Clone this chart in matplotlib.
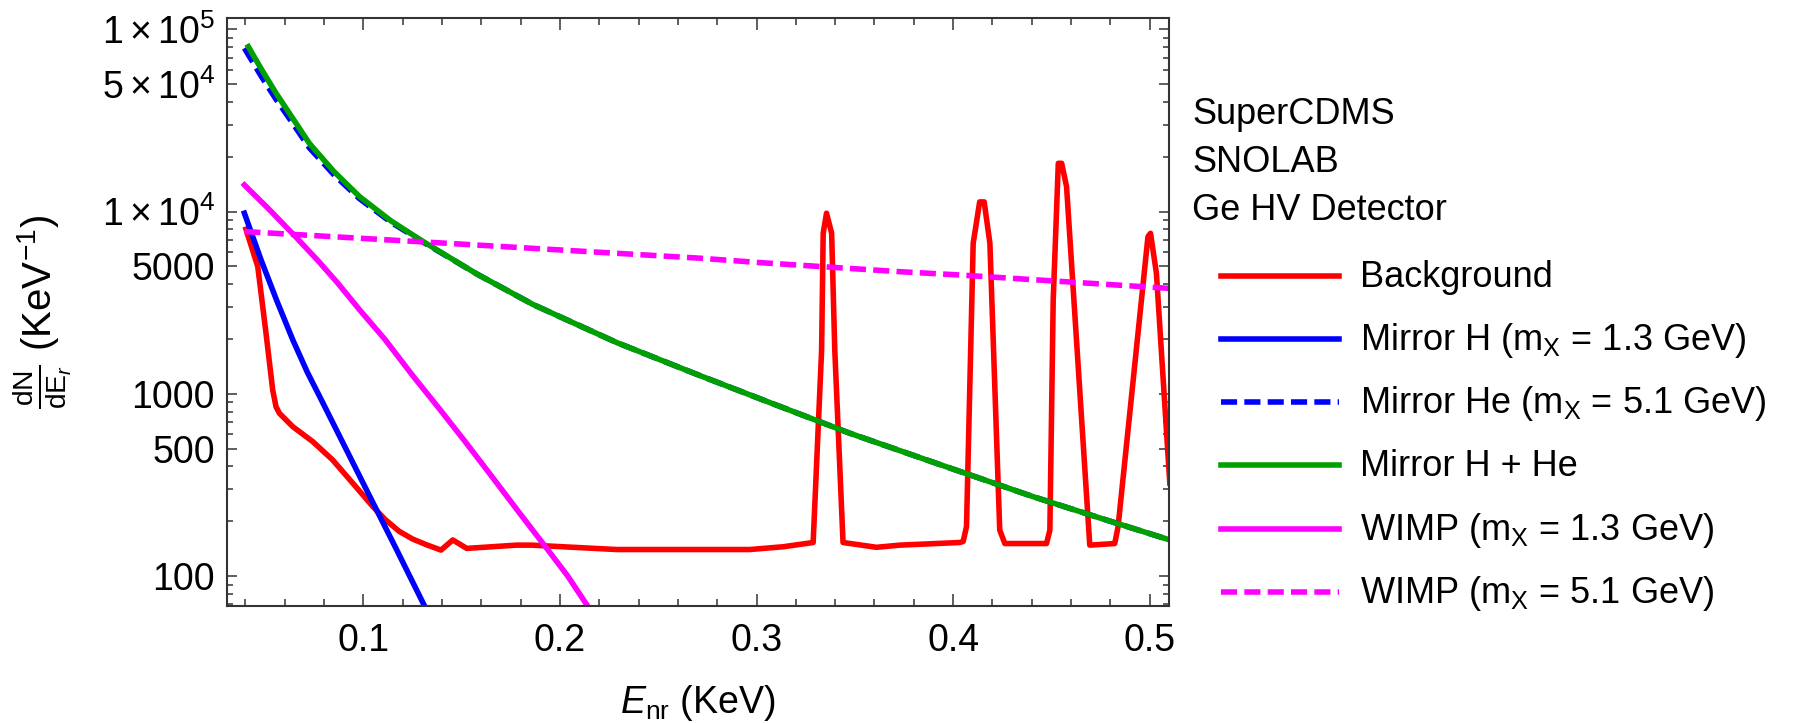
import matplotlib
matplotlib.use("Agg")
import matplotlib.pyplot as plt
from matplotlib.lines import Line2D
from matplotlib.ticker import LogLocator, MultipleLocator, NullFormatter

plt.rcParams['font.family'] = ['Liberation Sans', 'DejaVu Sans']
plt.rcParams['mathtext.fontset'] = 'custom'
plt.rcParams['mathtext.rm'] = 'Liberation Sans'
plt.rcParams['mathtext.it'] = 'Liberation Sans:italic'
plt.rcParams['mathtext.bf'] = 'Liberation Sans:bold'

# --- values (E in KeV, dN/dE in 1/KeV) ---
bg_x = [0.0403, 0.0463, 0.0505, 0.0539, 0.0556, 0.0573, 0.0641, 0.0743, 0.0844,
        0.0946, 0.1048, 0.111, 0.1183, 0.125, 0.1319, 0.1395, 0.1455, 0.1526, 0.178,
        0.1855, 0.2288, 0.2966, 0.3136, 0.3288, 0.3331, 0.3339, 0.3356, 0.3382, 0.3398,
        0.3440, 0.3610, 0.3729, 0.4034, 0.4051, 0.4068, 0.4102, 0.4135, 0.4158,
        0.4187, 0.4237, 0.4263, 0.4475, 0.4492, 0.4509, 0.4535, 0.4552, 0.4577,
        0.4695, 0.4822, 0.4839, 0.4991, 0.5004, 0.5034, 0.5102]
bg_y = [8000, 4990, 2150, 1050, 849, 783, 661, 547, 434,
        324, 241, 205, 176, 160, 149, 139, 158, 142, 148,
        148, 140, 140, 145, 153, 1740, 7600, 9800, 7600, 1740,
        153, 144, 148, 153, 155, 187, 6700, 11300, 11300,
        6700, 179, 151, 151, 179, 3270, 18400, 18400, 13700,
        148, 151, 187, 7280, 7600, 4590, 324]

mh_x = [0.0395, 0.048, 0.056, 0.0641, 0.0715, 0.0788, 0.0932, 0.1048, 0.1166, 0.1319]
mh_y = [9800, 5420, 3240, 1980, 1315, 920, 451, 254, 142, 66]

mhe_x = [0.0395, 0.048, 0.0556, 0.064, 0.0725, 0.085, 0.098, 0.114, 0.1305, 0.158,
         0.1864, 0.229, 0.2712, 0.309, 0.3475, 0.394, 0.4407, 0.475, 0.5102]
mhe_y = [78800, 55400, 41300, 30600, 22400, 15950, 11780, 8750, 6790, 4530,
         3090, 1910, 1260, 877, 608, 407, 273, 208, 158]

hhe_x = [0.0415, 0.048, 0.0556, 0.064, 0.0725, 0.085, 0.098, 0.114, 0.1305, 0.158,
         0.1864, 0.229, 0.2712, 0.309, 0.3475, 0.394, 0.4407, 0.475, 0.5102]
hhe_y = [80300, 60800, 44600, 32600, 23700, 16600, 12100, 8900, 6840, 4530,
         3090, 1910, 1260, 877, 608, 407, 273, 208, 158]

w13_x = [0.0395, 0.052, 0.0649, 0.0768, 0.087, 0.098, 0.111, 0.1251, 0.139,
         0.1522, 0.166, 0.18, 0.1933, 0.204, 0.2139]
w13_y = [14000, 10300, 7400, 5400, 4050, 2900, 1990, 1260, 820,
         540, 345, 218, 142, 100, 69]

w51_x = [0.0395, 0.1488, 0.2712, 0.3017, 0.3729, 0.4034, 0.5102]
w51_y = [7770, 6640, 5550, 5250, 4680, 4490, 3790]

labels = ['Background',
          'Mirror H (m$_{\\mathrm{X}}$ = 1.3 GeV)',
          'Mirror He (m$_{\\mathrm{X}}$ = 5.1 GeV)',
          'Mirror H + He',
          'WIMP (m$_{\\mathrm{X}}$ = 1.3 GeV)',
          'WIMP (m$_{\\mathrm{X}}$ = 5.1 GeV)']
title_lines = ['SuperCDMS', 'SNOLAB', 'Ge HV Detector']

x_ticks = [0.1, 0.2, 0.3, 0.4, 0.5]
x_tick_labels = ['0.1', '0.2', '0.3', '0.4', '0.5']
y_ticks = [100, 500, 1000, 5000, 1e4, 5e4, 1e5]
y_tick_labels = ['100', '500', '1000', '5000',
                 r'$1\times10^{4}$', r'$5\times10^{4}$', r'$1\times10^{5}$']

W, H = 1802, 723
fig = plt.figure(figsize=(W / 100, H / 100), dpi=100)
ax = fig.add_axes([226.7 / W, 1 - 606 / H, (1169 - 226.7) / W, (606 - 18.3) / H])
ax.set_yscale('log')

lw = 4.0
dash = (2.9, 1.3)
series = [
    (bg_x, bg_y, '#ff0000', None),
    (mh_x, mh_y, '#0000ff', None),
    (mhe_x, mhe_y, '#0000ff', dash),
    (hhe_x, hhe_y, '#00a000', None),
    (w13_x, w13_y, '#ff00ff', None),
    (w51_x, w51_y, '#ff00ff', dash),
]
lines = []
for xs, ys, c, d in series:
    ln, = ax.plot(xs, ys, color=c, lw=lw, solid_joinstyle='round')
    if d is not None:
        ln.set_dashes(d)
    lines.append(ln)

ax.set_xlim(0.0305, 0.5098)
ax.set_ylim(68.6, 1.149e5)

ax.set_xticks(x_ticks, x_tick_labels)
ax.xaxis.set_minor_locator(MultipleLocator(0.02))
ax.set_yticks(y_ticks, y_tick_labels)
ax.yaxis.set_minor_locator(LogLocator(base=10, subs=(2, 3, 4, 6, 7, 8, 9), numticks=30))
ax.yaxis.set_minor_formatter(NullFormatter())

frame = '#333333'
for sp in ax.spines.values():
    sp.set_linewidth(1.5)
    sp.set_color(frame)
ax.tick_params(axis='both', which='both', direction='in', top=True, right=True,
               color=frame, width=1.1, labelsize=27, labelcolor='black')
ax.tick_params(axis='x', which='major', length=8.6, pad=12)
ax.tick_params(axis='x', which='minor', length=4.8)
ax.tick_params(axis='y', which='major', length=7.2, pad=8.4)
ax.tick_params(axis='y', which='minor', length=4.2)

ax.set_xlabel(r'$E_{\mathrm{nr}}$ (KeV)', fontsize=27, va='center')
ax.xaxis.set_label_coords(0.5, -0.165)
ax.set_ylabel(r'$\frac{\mathrm{dN}}{\mathrm{dE}_{r}}$ (KeV$^{-1}$)', fontsize=29, va='center')
ax.yaxis.set_label_coords(-0.196, 0.5)

# text block and legend at the right
for i, t in enumerate(title_lines):
    fig.text(1192 / W, 1 - (123.5 + 48.2 * i) / H, t, fontsize=26, va='baseline', ha='left')

row0, step = 275.7, 63.2
for i, (ln, lab) in enumerate(zip(lines, labels)):
    yy = row0 + step * i
    h = Line2D([1220.7 / W, 1339 / W], [1 - yy / H, 1 - yy / H], transform=fig.transFigure,
               color=ln.get_color(), lw=lw)
    if ln.get_linestyle() != '-':
        h.set_dashes(dash)
    fig.add_artist(h)
    fig.text(1360 / W, 1 - (yy + 11) / H, lab, fontsize=26, va='baseline', ha='left')

fig.savefig('out.png', dpi=100)
